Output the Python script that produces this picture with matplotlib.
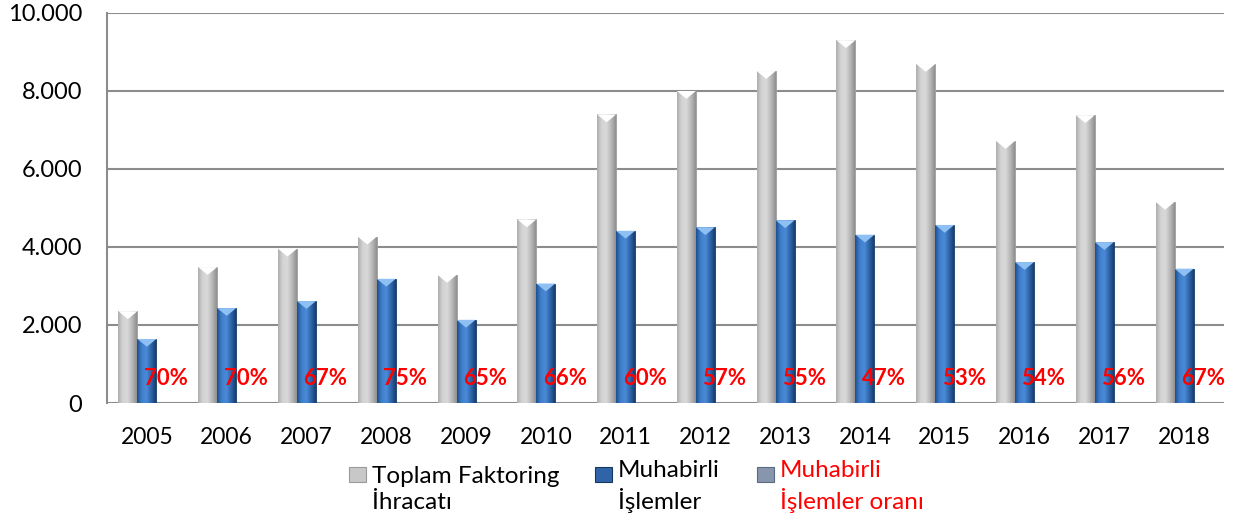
#!/usr/bin/env python3
"""Faktoring ihracati vs muhabirli islemler, 2005-2018."""

import numpy as np
import matplotlib
matplotlib.use("Agg")
import matplotlib.pyplot as plt
from matplotlib.patches import Polygon, Rectangle
from matplotlib.ticker import FuncFormatter

years = ["2005", "2006", "2007", "2008", "2009", "2010", "2011",
         "2012", "2013", "2014", "2015", "2016", "2017", "2018"]
toplam = [2350, 3480, 3950, 4260, 3280, 4700, 7390,
          7990, 8500, 9290, 8680, 6710, 7370, 5150]
muhabirli = [1640, 2430, 2610, 3180, 2130, 3060, 4410,
             4500, 4680, 4310, 4560, 3610, 4120, 3440]
oran = [0.70, 0.70, 0.67, 0.75, 0.65, 0.66, 0.60,
        0.57, 0.55, 0.47, 0.53, 0.54, 0.56, 0.67]
yticks = [0, 2000, 4000, 6000, 8000, 10000]
legend_labels = ["Toplam Faktoring\nİhracatı", "Muhabirli\nİşlemler",
                 "Muhabirli\nİşlemler oranı"]

plt.rcParams["font.family"] = ["Lato", "DejaVu Sans"]

GRID = "#8c8c8c"
W, H = 1243, 526


def gradient_bars(ax, bars, stops, notch_color, notch_depth):
    """Paint each bar with a horizontal gradient and a V notch on top."""
    cols = np.array([matplotlib.colors.to_rgb(c) for c in stops])
    pos = np.linspace(0, 1, len(cols))
    xs = np.linspace(0, 1, 64)
    img = np.stack([np.interp(xs, pos, cols[:, k]) for k in range(3)], axis=-1)
    img = img[np.newaxis, :, :]
    for b in bars:
        x0, y0 = b.get_x(), b.get_y()
        w, h = b.get_width(), b.get_height()
        if h <= 0:
            continue
        im = ax.imshow(img, extent=(x0, x0 + w, y0, y0 + h), aspect="auto",
                       zorder=b.get_zorder(), interpolation="bilinear")
        im.set_clip_path(b)
        tri = Polygon([(x0, y0 + h), (x0 + w, y0 + h),
                       (x0 + w / 2, y0 + h - notch_depth)],
                      closed=True, facecolor=notch_color, edgecolor="none",
                      zorder=b.get_zorder() + 0.1)
        ax.add_patch(tri)


fig = plt.figure(figsize=(W / 100, H / 100), dpi=100)
ax = fig.add_axes([107 / W, 1 - 403 / H, (1224 - 107) / W, (403 - 12.5) / H])

x = np.arange(len(years))
w = 0.238

b1 = ax.bar(x - w, toplam, w, color="#c4c4c4", edgecolor="#9a9a9a",
            linewidth=0.6, zorder=3)
b2 = ax.bar(x, muhabirli, w, color="#3a74bd", edgecolor="#17385f",
            linewidth=0.6, zorder=3)
b3 = ax.bar(x + w, oran, w, color="#8a9bb5", zorder=3)

gradient_bars(ax, b1, ["#aeaeae", "#d4d4d4", "#d9d9d9", "#b8b8b8", "#909090"],
              "white", 200)
gradient_bars(ax, b2, ["#1f4f8f", "#3f7fcc", "#4a8ad6", "#2f65aa", "#173e70"],
              "#8fc0f4", 200)

ax.bar_label(b3, labels=[f"{v:.0%}" for v in oran], padding=10,
             color="#ff0000", fontsize=16, fontweight="bold", zorder=5)

ax.set_xlim(-0.5, len(years) - 0.5)
ax.set_ylim(0, 10000)
ax.set_yticks(yticks)
ax.yaxis.set_major_formatter(FuncFormatter(lambda v, p: f"{int(v):,}".replace(",", ".")))
ax.set_xticks(x)
ax.set_xticklabels(years)
ax.tick_params(axis="both", length=0, colors="black")
ax.tick_params(axis="x", pad=17, labelsize=16.5)
ax.tick_params(axis="y", pad=18, labelsize=17)
ax.grid(axis="y", color=GRID, linewidth=1.5, zorder=0)
ax.set_axisbelow(True)
for s in ["top", "right", "bottom"]:
    ax.spines[s].set_visible(False)
ax.spines["left"].set_color(GRID)
ax.spines["left"].set_linewidth(1.5)

# legend drawn by hand so the swatch sits on the first text line
legend_faces = ["#c8c8c8", "#2f64a8", "#8796ad"]
legend_edges = ["#9a9a9a", "#17385f", "#5a6a80"]
legend_colors = ["black", "black", "#ff0000"]
swatch_x = [349, 595, 757]
for sx, lab, fc, ec, tc in zip(swatch_x, legend_labels, legend_faces,
                               legend_edges, legend_colors):
    fig.patches.append(Rectangle((sx / W, 1 - 482 / H), 17 / W, 15 / H,
                                 transform=fig.transFigure, facecolor=fc,
                                 edgecolor=ec, linewidth=0.8))
    # baseline alignment uses the last line, i.e. "İhracatı" etc.
    fig.text((sx + 23) / W, 1 - 509 / H, lab, ha="left", va="baseline",
             fontsize=17.5, color=tc, linespacing=1.32)

fig.savefig("out.png", dpi=100)
